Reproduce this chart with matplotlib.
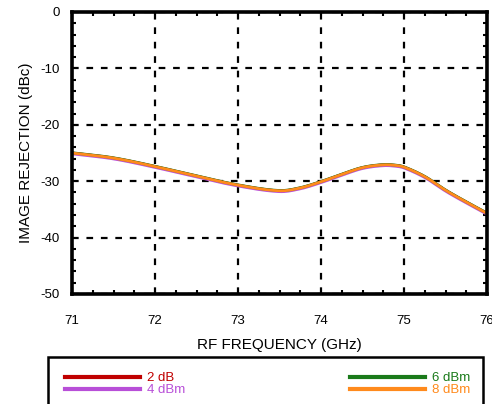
import matplotlib
matplotlib.use("Agg")
import matplotlib.pyplot as plt
from matplotlib.patches import Rectangle
from matplotlib.ticker import MultipleLocator
import numpy as np

plt.rcParams['font.family'] = ['Liberation Sans', 'DejaVu Sans']
plt.rcParams['axes.unicode_minus'] = False

freq = [71.0, 71.5, 72.0, 72.5, 73.0, 73.5, 73.75, 74.0, 74.25, 74.5, 74.75, 74.9, 75.0, 75.25, 75.5, 75.75, 76.0]
ir_2db = [-25.0, -25.9, -27.4, -29.1, -30.7, -31.7, -31.2, -30.1, -28.8, -27.6, -27.1, -27.2, -27.5, -29.2, -31.6, -33.7, -35.7]
ir_4dbm = [v - 0.15 for v in ir_2db]
ir_6dbm = [v + 0.05 for v in ir_2db]
ir_8dbm = [v for v in ir_2db]

labels = ['2 dB', '4 dBm', '6 dBm', '8 dBm']
colors = ['#c00000', '#b84fd8', '#1a7a1a', '#ff8a1c']

W, H = 492, 404
fig = plt.figure(figsize=(W/100, H/100), dpi=100)
ax = fig.add_axes([72/W, 1-294/H, (487-72)/W, (294-12)/H])

xs = np.linspace(71, 76, 300)
def smooth(x, y):
    x = np.asarray(x); y = np.asarray(y)
    n = len(x)
    m = np.empty(n)
    for i in range(n):
        a = max(i - 1, 0); b = min(i + 1, n - 1)
        m[i] = (y[b] - y[a]) / (x[b] - x[a])
    out = np.empty_like(xs)
    for k, xv in enumerate(xs):
        i = min(max(np.searchsorted(x, xv) - 1, 0), n - 2)
        h = x[i+1] - x[i]
        t = (xv - x[i]) / h
        t2, t3 = t*t, t*t*t
        out[k] = ((2*t3-3*t2+1)*y[i] + (t3-2*t2+t)*h*m[i]
                  + (-2*t3+3*t2)*y[i+1] + (t3-t2)*h*m[i+1])
    return out

series = [ir_2db, ir_4dbm, ir_6dbm, ir_8dbm]
handles = []
for s, c, lab in zip(series, colors, labels):
    h, = ax.plot(xs, smooth(freq, s), color=c, lw=2.0, label=lab)
    handles.append(h)

ax.set_xlim(71, 76)
ax.set_ylim(-50, 0)
ax.xaxis.set_major_locator(MultipleLocator(1))
ax.xaxis.set_minor_locator(MultipleLocator(0.25))
ax.yaxis.set_major_locator(MultipleLocator(10))
ax.yaxis.set_minor_locator(MultipleLocator(2))
ax.tick_params(which='both', direction='in', top=True, right=True, labelsize=9.5, width=1.5)
ax.tick_params(which='major', length=0)
ax.tick_params(which='minor', length=3)
ax.tick_params(axis='y', which='major', pad=9)
ax.tick_params(axis='x', which='major', pad=15)
ax.grid(True, which='major', color='black', linestyle=(0, (3, 3.5)), linewidth=1.6)
for sp in ax.spines.values():
    sp.set_linewidth(2.6)

ax.set_xlabel('RF FREQUENCY (GHz)', fontsize=11, labelpad=8)
ax.set_ylabel('IMAGE REJECTION (dBc)', fontsize=11, labelpad=5)

# legend frame
fig.patches.append(Rectangle((48/W, -0.1), (483-48)/W, (1-357/H)+0.1, transform=fig.transFigure,
                             fill=False, edgecolor='black', linewidth=1.8, clip_on=False))
kw = dict(loc='upper left', frameon=False, fontsize=9.5, handlelength=5.7, handletextpad=0.5,
          labelspacing=0.0, labelcolor='linecolor', borderpad=0, borderaxespad=0)
leg1 = fig.legend(handles[:2], labels[:2], bbox_to_anchor=(65/W, 1-372/H), **kw)
leg2 = fig.legend(handles[2:], labels[2:], bbox_to_anchor=(350/W, 1-372/H), **kw)
for lg in (leg1, leg2):
    for ln in lg.get_lines():
        ln.set_linewidth(3)

fig.savefig('out.png', dpi=100)
